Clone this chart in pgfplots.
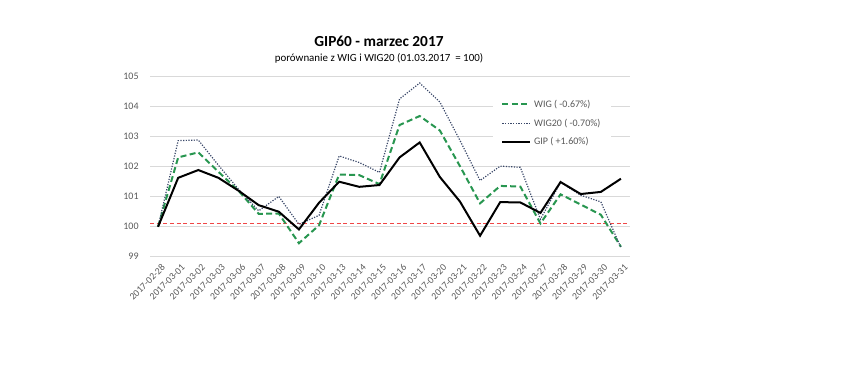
\documentclass[border=0pt]{standalone}
\usepackage{pgfplots}
\pgfplotsset{compat=1.18}
\usepackage{fontspec}
\setmainfont{Carlito}
\definecolor{wigc}{RGB}{40,150,80}
\definecolor{wig20c}{RGB}{58,72,105}
\definecolor{refline}{RGB}{240,70,70}
\definecolor{gridc}{RGB}{217,217,217}
\definecolor{labc}{RGB}{89,89,89}
\pgfplotstableread{
idx gip wig wig20
0 100.00 100.00 100.00
1 101.63 102.31 102.87
2 101.89 102.48 102.89
3 101.63 101.83 102.05
4 101.20 101.20 101.25
5 100.72 100.43 100.53
6 100.50 100.44 101.01
7 99.91 99.45 100.08
8 100.80 100.05 100.38
9 101.50 101.74 102.36
10 101.33 101.72 102.14
11 101.39 101.42 101.81
12 102.31 103.39 104.26
13 102.81 103.69 104.79
14 101.66 103.21 104.16
15 100.84 102.02 102.88
16 99.70 100.78 101.54
17 100.82 101.36 102.02
18 100.81 101.34 101.98
19 100.46 100.11 100.25
20 101.49 101.08 101.48
21 101.09 100.74 101.05
22 101.16 100.40 100.83
23 101.60 99.33 99.30
}\datatable
\begin{document}
\begin{tikzpicture}[x=0.75pt,y=0.75pt]
\path (0,0) rectangle (867,377);
\node[font=\fontsize{11.5}{13}\selectfont\bfseries] at (379,336) {GIP60 - marzec 2017};
\node[font=\fontsize{8.2}{10}\selectfont] at (379,319) {porównanie z WIG i WIG20 (01.03.2017 \ = 100)};
\begin{axis}[
  at={(112.5pt,90.2pt)}, anchor=south west,
  width=360pt, height=135pt, scale only axis,
  xmin=-0.4, xmax=23.45, ymin=99, ymax=105,
  ytick={99,100,...,105},
  xtick={0,...,23},
  xticklabels={2017-02-28,2017-03-01,2017-03-02,2017-03-03,2017-03-06,2017-03-07,2017-03-08,2017-03-09,2017-03-10,2017-03-13,2017-03-14,2017-03-15,2017-03-16,2017-03-17,2017-03-20,2017-03-21,2017-03-22,2017-03-23,2017-03-24,2017-03-27,2017-03-28,2017-03-29,2017-03-30,2017-03-31},
  x tick label style={rotate=45, anchor=north east, font=\fontsize{7.3}{9}\selectfont, text=labc, inner sep=1pt, yshift=-4pt, xshift=-1pt},
  y tick label style={font=\fontsize{7.5}{9}\selectfont, text=labc, xshift=-5pt},
  /pgf/number format/assume math mode=true,
  ymajorgrids, grid style={gridc, line width=0.75pt},
  axis line style={draw=none},
  major tick length=0pt,
  legend style={at={(0.715,0.925)}, anchor=north west, draw=none, fill=white,
    font=\fontsize{7.5}{9}\selectfont, text=labc, row sep=3.2pt, inner xsep=6pt, inner ysep=5pt},
  legend cell align=left,
  legend image code/.code={\draw[#1] (0pt,0pt) -- (21pt,0pt);},
]
\addplot[color=refline, solid, line width=0.75pt, dash pattern=on 3pt off 2pt, forget plot] coordinates {(-0.4,100.1) (23.45,100.1)};
\addplot[wigc, line width=1.5pt, dash pattern=on 4.5pt off 2.5pt] table[x=idx,y=wig] {\datatable};
\addlegendentry{WIG ( -0.67\%)}
\addplot[wig20c, line width=0.9pt, dash pattern=on 0.9pt off 1.1pt] table[x=idx,y=wig20] {\datatable};
\addlegendentry{WIG20 ( -0.70\%)}
\addplot[black, line width=1.5pt] table[x=idx,y=gip] {\datatable};
\addlegendentry{GIP ( +1.60\%)}
\end{axis}
\end{tikzpicture}
\end{document}
